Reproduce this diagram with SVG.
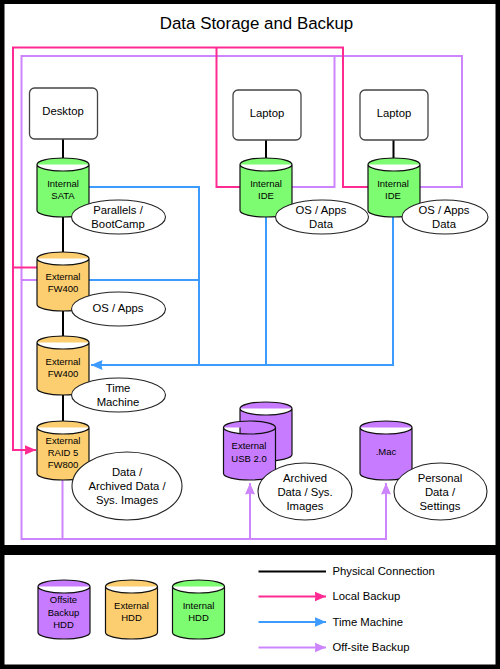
<svg xmlns="http://www.w3.org/2000/svg" width="500" height="669" viewBox="0 0 500 669">
<style>
text{font-family:"Liberation Sans",Arial,Helvetica,sans-serif;fill:#000;text-anchor:middle}
.t{font-size:11.300px}.s{font-size:9.500px}.l{font-size:11.300px;text-anchor:start}
.box{fill:#fff;stroke:#444;stroke-width:1.3}
.el{fill:#fff;stroke:#222;stroke-width:1.1}
.c{stroke:#111;stroke-width:1.2}
.g{fill:#7dfc72}.o{fill:#fcce70}.p{fill:#c77cff}
.w{fill:none;stroke-width:2;stroke-linejoin:miter}
.k{stroke:#000}.pk{stroke:#ff2a92}.bl{stroke:#3d9bff}.pu{stroke:#cd85ff}
</style>
<defs>
<marker id="ap" markerUnits="userSpaceOnUse" markerWidth="12" markerHeight="12" refX="11.500" refY="6" orient="auto"><path d="M0 1L11.500 6L0 11L1 6Z" fill="#ff2a92"/></marker>
<marker id="ab" markerUnits="userSpaceOnUse" markerWidth="12" markerHeight="12" refX="11.500" refY="6" orient="auto"><path d="M0 1L11.500 6L0 11L1 6Z" fill="#3d9bff"/></marker>
<marker id="au" markerUnits="userSpaceOnUse" markerWidth="12" markerHeight="12" refX="11.500" refY="6" orient="auto"><path d="M0 1L11.500 6L0 11L1 6Z" fill="#cd85ff"/></marker>
<path id="cyl" d="M0 6.500C0 2.900 11.600 0 26 0S52 2.900 52 6.500V52.500C52 56.100 40.400 59 26 59S0 56.100 0 52.500ZM0 6.500C0 10.100 11.600 13 26 13S52 10.100 52 6.500"/>
</defs>
<rect width="500" height="669" fill="#000"/>
<rect x="4.500" y="4" width="491" height="541" fill="#fff"/>
<rect x="4.500" y="555" width="491" height="109.500" fill="#fff"/>
<text x="256.500" y="28.500" style="font-size:16.900px">Data Storage and Backup</text>
<g id="connectors">
<g class="w pu">
<path d="M62.500 480V539"/>
<path d="M37 280H21.500V539H386V483" marker-end="url(#au)"/>
<path d="M250 539V483" marker-end="url(#au)"/>
<path d="M21.500 280V56H462V187H419"/>
<path d="M334.500 56V187H292"/>
</g>
<g class="w bl">
<path d="M89 187H199V365"/>
<path d="M89 280H199"/>
<path d="M393 217V365H91" marker-end="url(#ab)"/>
<path d="M266 217V365"/>
</g>
<g class="w pk">
<path d="M368 187H343V47.500H13V450H36" marker-end="url(#ap)"/>
<path d="M240 187H216.500V47.500"/>
<path d="M13 267.500H37"/>
</g>
<g class="w k">
<path d="M63 139V158M63 217V252M63 310V336M63 395V421M266 140V158M393.500 140V158"/>
</g>
</g>
<g id="desktop"><rect class="box" x="29.500" y="88" width="68" height="51" rx="5"/><text class="t" x="63" y="115">Desktop</text></g>
<g id="laptop1"><rect class="box" x="233" y="90" width="68" height="50" rx="5"/><text class="t" x="267" y="117">Laptop</text></g>
<g id="laptop2"><rect class="box" x="360" y="90" width="68" height="50" rx="5"/><text class="t" x="394" y="117">Laptop</text></g>
<g id="internal-sata"><use href="#cyl" x="37" y="158" class="c g"/><text class="s" x="63" y="187">Internal</text><text class="s" x="63" y="199">SATA</text></g>
<g id="parallels"><ellipse class="el" cx="118.500" cy="217" rx="47" ry="17"/><text class="t" x="118" y="214">Parallels /</text><text class="t" x="118" y="228">BootCamp</text></g>
<g id="internal-ide1"><use href="#cyl" x="240" y="158" class="c g"/><text class="s" x="266" y="187">Internal</text><text class="s" x="266" y="199">IDE</text></g>
<g id="osapps1"><ellipse class="el" cx="322" cy="217" rx="46.500" ry="17"/><text class="t" x="321" y="214">OS / Apps</text><text class="t" x="321" y="228">Data</text></g>
<g id="internal-ide2"><use href="#cyl" x="368" y="158" class="c g"/><text class="s" x="393" y="187">Internal</text><text class="s" x="393" y="199">IDE</text></g>
<g id="osapps2"><ellipse class="el" cx="445" cy="217" rx="43" ry="17"/><text class="t" x="444" y="214">OS / Apps</text><text class="t" x="444" y="228">Data</text></g>
<g id="external-fw400-1"><use href="#cyl" x="37" y="252" class="c o"/><text class="s" x="63" y="280">External</text><text class="s" x="63" y="292">FW400</text></g>
<g id="osapps3"><ellipse class="el" cx="118.500" cy="309" rx="47" ry="17"/><text class="t" x="118" y="312">OS / Apps</text></g>
<g id="external-fw400-2"><use href="#cyl" x="37" y="336" class="c o"/><text class="s" x="63" y="365">External</text><text class="s" x="63" y="377">FW400</text></g>
<g id="time-machine"><ellipse class="el" cx="118.500" cy="395" rx="47" ry="17"/><text class="t" x="118" y="392">Time</text><text class="t" x="118" y="406">Machine</text></g>
<g id="external-raid"><use href="#cyl" x="37" y="421" class="c o"/><text class="s" x="63" y="444">External</text><text class="s" x="63" y="456">RAID 5</text><text class="s" x="63" y="468">FW800</text></g>
<g id="data"><ellipse class="el" cx="127" cy="486" rx="55" ry="34"/><text class="t" x="127" y="476">Data /</text><text class="t" x="127" y="490">Archived Data /</text><text class="t" x="127" y="504">Sys. Images</text></g>
<g id="external-usb"><use href="#cyl" x="240" y="402" class="c p"/><use href="#cyl" x="223.500" y="421" class="c p"/><text class="s" x="249" y="449">External</text><text class="s" x="249" y="462">USB 2.0</text></g>
<g id="archived"><ellipse class="el" cx="305" cy="491.500" rx="47" ry="28.500"/><text class="t" x="305" y="482">Archived</text><text class="t" x="305" y="496">Data / Sys.</text><text class="t" x="305" y="510">Images</text></g>
<g id="mac"><use href="#cyl" x="360" y="421" class="c p"/><text class="s" x="386" y="455">.Mac</text></g>
<g id="personal"><ellipse class="el" cx="440.500" cy="491.500" rx="46.500" ry="28.500"/><text class="t" x="440" y="482">Personal</text><text class="t" x="440" y="496">Data /</text><text class="t" x="440" y="510">Settings</text></g>
<g id="legend-offsite"><use href="#cyl" x="38" y="580" class="c p"/><text class="s" x="63.500" y="603">Offsite</text><text class="s" x="63.500" y="615.500">Backup</text><text class="s" x="63.500" y="628">HDD</text></g>
<g id="legend-external"><use href="#cyl" x="105.500" y="580" class="c o"/><text class="s" x="131.500" y="609">External</text><text class="s" x="131.500" y="621">HDD</text></g>
<g id="legend-internal"><use href="#cyl" x="172.500" y="580" class="c g"/><text class="s" x="198.500" y="609">Internal</text><text class="s" x="198.500" y="621">HDD</text></g>
<g id="legend-lines">
<path class="w k" d="M258.500 571.500H326"/>
<path class="w pk" d="M258.500 596.500H326" marker-end="url(#ap)"/>
<path class="w bl" d="M258.500 622H326" marker-end="url(#ab)"/>
<path class="w pu" d="M258.500 647.500H326" marker-end="url(#au)"/>
<text class="l" x="332.500" y="575">Physical Connection</text>
<text class="l" x="332.500" y="600">Local Backup</text>
<text class="l" x="332.500" y="626">Time Machine</text>
<text class="l" x="332.500" y="651">Off-site Backup</text>
</g>
</svg>
